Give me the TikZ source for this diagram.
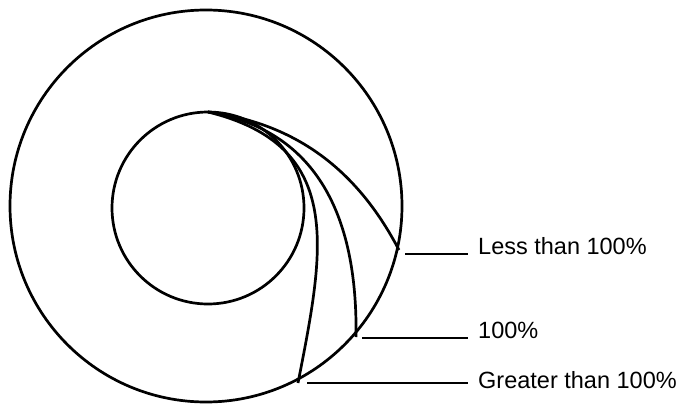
\documentclass[tikz,border=0pt]{standalone}
\usepackage{fontspec}
\setmainfont{Liberation Sans}
\begin{document}
\begin{tikzpicture}[x=1pt,y=-1pt,
  ln/.style={line width=2.7pt,black},
  lab/.style={anchor=base west,inner sep=0pt,font=\fontsize{23.5}{28}\selectfont}]
\useasboundingbox (0,0) rectangle (680,404);
% circles
\draw[ln] (206,206) circle[radius=196];
\draw[ln] (208,208) circle[radius=96];
% curve start and ends
\coordinate (s) at (208,112);
\coordinate (e1) at (399,250);
\coordinate (e2) at (356,337);
\coordinate (e3) at (298,383);
\draw[ln] (s) .. controls (310,125) and (365,185) .. (e1);
\draw[ln] (s) .. controls (305,128) and (358,200) .. (e2);
\draw[ln] (s) .. controls (346,146) and (324,250) .. (e3);
% labels
\node[lab] (l1) at (478,254) {Less than 100\%};
\node[lab] (l2) at (478,338) {100\%};
\node[lab] (l3) at (478,388) {Greater than 100\%};
\coordinate (a1) at (405,254);
\coordinate (a2) at (362,338);
\coordinate (a3) at (307,383);
\draw[ln] (a1) -- (a1 -| 468,0);
\draw[ln] (a2) -- (a2 -| 468,0);
\draw[ln] (a3) -- (a3 -| 468,0);
\end{tikzpicture}
\end{document}
